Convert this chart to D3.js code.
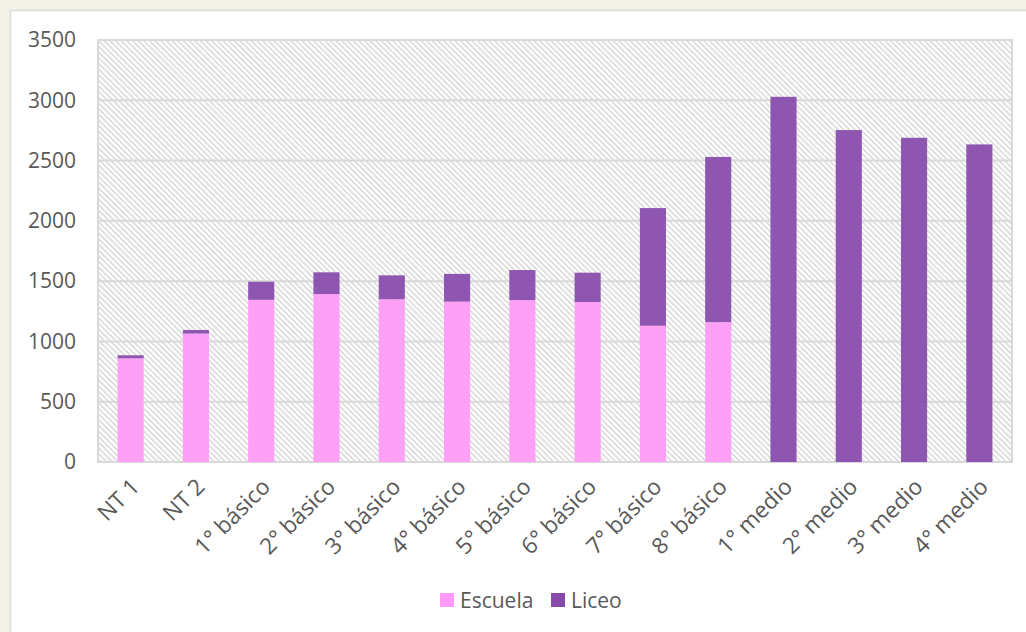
<!DOCTYPE html>
<html><head><meta charset="utf-8">
<script src="https://cdn.jsdelivr.net/npm/d3@7/dist/d3.min.js"></script>
<style>
html,body{margin:0;padding:0;background:#f3f0e8;}
svg{display:block;}
text{font-family:"Open Sans",sans-serif;fill:#595959;}
</style></head><body>
<script>
const categories = ["NT 1","NT 2","1° básico","2° básico","3° básico","4° básico","5° básico","6° básico","7° básico","8° básico","1° medio","2° medio","3° medio","4° medio"];
const escuela = [860,1065,1345,1393,1350,1330,1343,1327,1130,1160,0,0,0,0];
const liceo = [25,30,150,180,198,230,249,243,976,1370,3029,2753,2689,2634];
const yTicks = [0,500,1000,1500,2000,2500,3000,3500];
const seriesNames = ["Escuela","Liceo"];
const colors = ["#ff9af6","#864aab"];

const W=1026,H=632;
const m={l:98,r:14,t:40,b:170};
const svg=d3.select("body").append("svg").attr("width",W).attr("height",H);
const defs=svg.append("defs");
const pat=defs.append("pattern").attr("id","hatch").attr("patternUnits","userSpaceOnUse")
  .attr("width",4).attr("height",4).attr("patternTransform","rotate(-45)");
pat.append("rect").attr("width",4).attr("height",4).attr("fill","#ffffff");
pat.append("rect").attr("width",1.7).attr("height",4).attr("fill","#dadada");

// card
svg.append("rect").attr("x",10.5).attr("y",10.5).attr("width",W).attr("height",H)
  .attr("fill","#fff").attr("stroke","#dcdcdc").attr("stroke-width",1.5);

const x=d3.scaleBand().domain(categories).range([m.l,W-m.r]).paddingInner(0.6).paddingOuter(0.3);
const y=d3.scaleLinear().domain([0,3500]).range([H-m.b,m.t]);

// plot background
svg.append("rect").attr("x",m.l).attr("y",m.t).attr("width",W-m.r-m.l).attr("height",y(0)-m.t)
  .attr("fill","url(#hatch)");

// gridlines
svg.append("g").selectAll("line").data(yTicks).join("line")
  .attr("x1",m.l).attr("x2",W-m.r).attr("y1",d=>y(d)).attr("y2",d=>y(d))
  .attr("stroke","#d9d9d9").attr("stroke-width",2);
// plot border
svg.append("rect").attr("x",m.l).attr("y",m.t).attr("width",W-m.r-m.l).attr("height",y(0)-m.t)
  .attr("fill","none").attr("stroke","#d9d9d9").attr("stroke-width",2);

const data=categories.map((c,i)=>({cat:c,Escuela:escuela[i],Liceo:liceo[i]}));
const stack=d3.stack().keys(seriesNames)(data);
svg.append("g").selectAll("g").data(stack).join("g")
  .attr("fill",(d,i)=>colors[i]).attr("fill-opacity",0.93)
  .selectAll("rect").data(d=>d).join("rect")
  .attr("x",d=>x(d.data.cat)).attr("width",x.bandwidth())
  .attr("y",d=>y(d[1])).attr("height",d=>y(d[0])-y(d[1]));

// y axis
const ya=svg.append("g").attr("transform",`translate(${m.l},0)`)
  .call(d3.axisLeft(y).tickValues(yTicks).tickFormat(d3.format("d")).tickSize(0).tickPadding(22));
ya.select(".domain").remove();
ya.selectAll("text").style("font-size","21px").style("font-family","'Open Sans',sans-serif").attr("fill","#595959");

// x axis labels
const xa=svg.append("g").attr("transform",`translate(0,${y(0)})`)
  .call(d3.axisBottom(x).tickSize(0).tickPadding(0));
xa.select(".domain").remove();
xa.selectAll("text").style("font-size","22.5px").style("font-family","'Open Sans',sans-serif").attr("fill","#595959")
  .attr("text-anchor","end").attr("dy",null).attr("y",0)
  .attr("transform","translate(6,22) rotate(-45)").attr("dominant-baseline","middle");

// legend
const lg=svg.append("g");
const lx=[440,551];
seriesNames.forEach((s,i)=>{
  lg.append("rect").attr("x",lx[i]).attr("y",593).attr("width",14).attr("height",14).attr("fill",colors[i]);
  lg.append("text").attr("x",lx[i]+20).attr("y",608).text(s).style("font-size","21px");
});
</script>
</body></html>
